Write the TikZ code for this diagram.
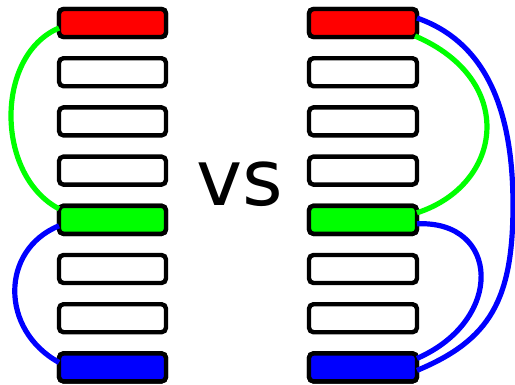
\documentclass[tikz,border=0pt]{standalone}
\usepackage{fontspec}
\newfontfamily\vsfont{DejaVu Sans}
\begin{document}
\begin{tikzpicture}[x=1pt,y=-1pt,
  slot/.style={draw=black,line width=4.4pt,rounded corners=4.5pt,minimum width=107pt,minimum height=28pt,inner sep=0pt,outer sep=0pt,fill=white},
  link/.style={line width=5.2pt}]
\useasboundingbox (0,0) rectangle (515,384);
\foreach \i [evaluate=\i as \yy using {23+49.2*(\i-1)}] in {1,...,8} {
  \node[slot] (L\i) at (112.5,\yy) {};
  \node[slot,minimum width=108pt] (R\i) at (363,\yy) {};
}
\node[slot,fill=red] at (L1) {};
\node[slot,fill=green] at (L5) {};
\node[slot,fill=blue] at (L8) {};
\node[slot,minimum width=108pt,fill=red] at (R1) {};
\node[slot,minimum width=108pt,fill=green] at (R5) {};
\node[slot,minimum width=108pt,fill=blue] at (R8) {};
\node[font=\vsfont\fontsize{78}{78}\selectfont,inner sep=0pt] (vs) at (240,184) {vs};
% left links
\draw[link,green] ([yshift=-5pt]L1.west) .. controls (-5,55) and (-5,175) .. ([yshift=-3pt]L5.north west);
\draw[link,blue] ([yshift=-6pt]L5.west) .. controls (0,250) and (0,330) .. ([yshift=5pt]L8.west);
% right links
\draw[link,green] ([xshift=-2pt,yshift=1pt]R1.south east) .. controls (518,80) and (503,185) .. ([yshift=7pt]R5.east);
\draw[link,blue] ([yshift=-4pt]R5.east) .. controls (500,220) and (505,320) .. ([yshift=9pt]R8.east);
\draw[link,blue] ([yshift=5pt]R1.east) .. controls (480,40) and (513,100) .. (513,205)
  .. controls (513,300) and (490,340) .. ([yshift=-3pt]R8.east);
\end{tikzpicture}
\end{document}
